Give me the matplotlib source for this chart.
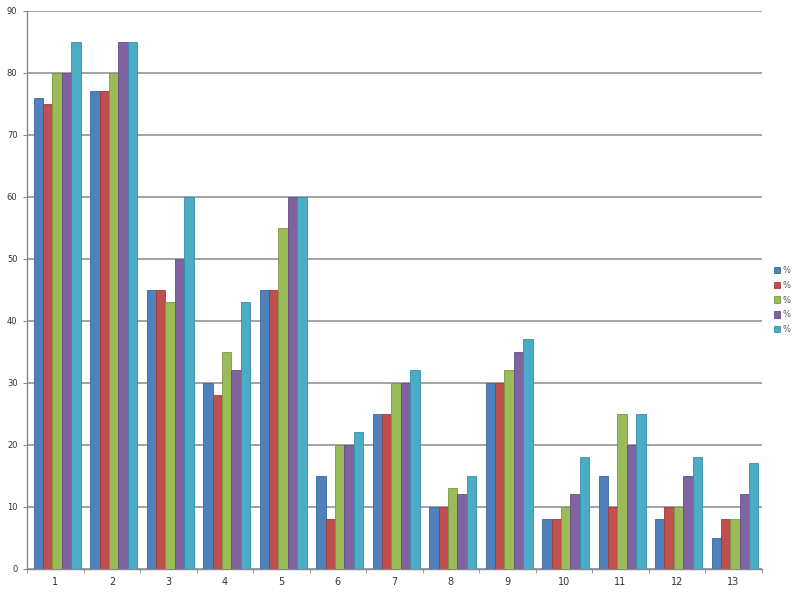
import matplotlib
matplotlib.use("Agg")
import matplotlib.pyplot as plt
import numpy as np

categories = ["1", "2", "3", "4", "5", "6", "7", "8", "9", "10", "11", "12", "13"]
series_labels = ["%", "%", "%", "%", "%"]
s1 = [76, 77, 45, 30, 45, 15, 25, 10, 30, 8, 15, 8, 5]
s2 = [75, 77, 45, 28, 45, 8, 25, 10, 30, 8, 10, 10, 8]
s3 = [80, 80, 43, 35, 55, 20, 30, 13, 32, 10, 25, 10, 8]
s4 = [80, 85, 50, 32, 60, 20, 30, 12, 35, 12, 20, 15, 12]
s5 = [85, 85, 60, 43, 60, 22, 32, 15, 37, 18, 25, 18, 17]
series = [s1, s2, s3, s4, s5]
colors = ["#4F81BD", "#C0504D", "#9BBB59", "#8064A2", "#4BACC6"]
edges = ["#3A6798", "#9E3B38", "#7C9843", "#644D84", "#3690A8"]

fig = plt.figure(figsize=(8, 6), dpi=100)
ax = fig.add_axes([0.034, 0.052, 0.918, 0.930])

x = np.arange(len(categories))
w = 0.166
for i, (vals, c, ec, lab) in enumerate(zip(series, colors, edges, series_labels)):
    ax.bar(x + (i - 2) * w + 0.03, vals, width=w, color=c, edgecolor=ec, linewidth=0.6,
           label=lab, zorder=3)

ax.set_xlim(-0.5, len(categories) - 0.5)
ax.set_ylim(0, 90)
ax.set_yticks(np.arange(0, 91, 10))
ax.set_yticklabels([str(v) for v in range(0, 91, 10)], fontsize=6, color="#333333")
ax.set_xticks(x)
ax.set_xticklabels(categories, fontsize=7, color="#333333")
ax.set_xticks(np.arange(-0.5, len(categories), 1), minor=True)
ax.tick_params(axis="x", which="major", length=0, pad=6)
ax.tick_params(axis="x", which="minor", length=3, color="#888888")
ax.tick_params(axis="y", length=3, color="#888888", pad=4)
ax.yaxis.grid(True, color="#8a8a8a", linewidth=1.1, zorder=0)
ax.set_axisbelow(True)
for s in ["top", "right"]:
    ax.spines[s].set_visible(False)
for s in ["left", "bottom"]:
    ax.spines[s].set_color("#888888")
    ax.spines[s].set_linewidth(1.0)

leg = fig.legend(loc="center left", bbox_to_anchor=(0.962, 0.50), frameon=False,
                 fontsize=6, handlelength=0.8, handleheight=0.8,
                 handletextpad=0.3, labelspacing=0.7, borderpad=0)
for t in leg.get_texts():
    t.set_color("#555555")

fig.savefig("out.png", dpi=100)
